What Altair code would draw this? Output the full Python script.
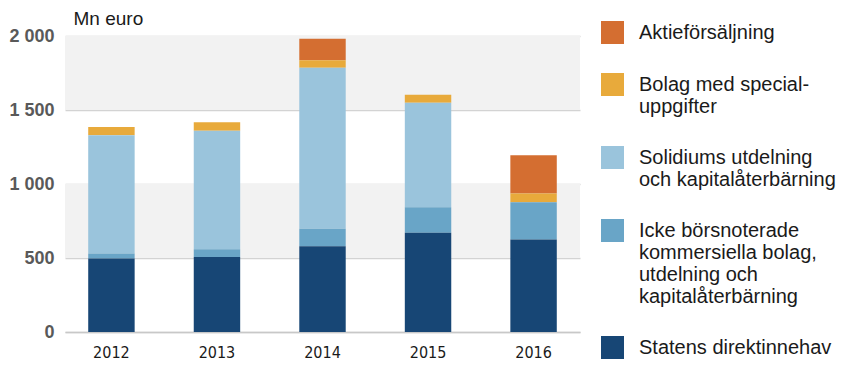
import altair as alt
import pandas as pd

years = ["2012", "2013", "2014", "2015", "2016"]
categories = [
    "Aktieförsäljning",
    "Bolag med specialuppgifter",
    "Solidiums utdelning och kapitalåterbärning",
    "Icke börsnoterade kommersiella bolag, utdelning och kapitalåterbärning",
    "Statens direktinnehav",
]
legend_lines = [
    ["Aktieförsäljning"],
    ["Bolag med special-", "uppgifter"],
    ["Solidiums utdelning", "och kapitalåterbärning"],
    ["Icke börsnoterade", "kommersiella bolag,", "utdelning och", "kapitalåterbärning"],
    ["Statens direktinnehav"],
]
colors = ["#d46e31", "#e8aa3b", "#9ac4dc", "#69a5c7", "#174675"]

aktie = [0, 0, 146, 0, 259]
bolag = [55, 58, 50, 54, 59]
solidium = [800, 801, 1089, 706, 0]
icke = [34, 52, 117, 173, 252]
statens = [496, 507, 580, 670, 625]

band_lo = [500, 1500]
band_hi = [1000, 2000]

series = [aktie, bolag, solidium, icke, statens]
rows = []
for ci, (cat, vals) in enumerate(zip(categories, series)):
    for y, v in zip(years, vals):
        rows.append({"year": y, "category": cat, "value": v, "order": len(categories) - ci})
df = pd.DataFrame(rows)
bands = pd.DataFrame({"lo": band_lo, "hi": band_hi})

label_map = {c: l for c, l in zip(categories, legend_lines)}
label_expr = "{" + ", ".join(
    "'" + c + "': [" + ", ".join("'" + s + "'" for s in l) + "]" for c, l in label_map.items()
) + "}[datum.label]"

yscale = alt.Scale(domain=[0, 2000], nice=False)

bg = alt.Chart(bands).mark_rect(color="#f2f2f2").encode(
    y=alt.Y("lo:Q", scale=yscale),
    y2="hi:Q",
    x=alt.value(0),
    x2=alt.value(515),
)

bars = alt.Chart(df).mark_bar().encode(
    x=alt.X(
        "year:N",
        sort=years,
        scale=alt.Scale(paddingInner=0.56, paddingOuter=0.22),
        axis=alt.Axis(
            title=None, labelAngle=0, ticks=False, domain=True, domainColor="#c8c8c8",
            domainWidth=1.5,
            labelFont="Liberation Sans Narrow, DejaVu Sans Condensed, Roboto Condensed, Liberation Sans",
            labelFontSize=16, labelFontWeight="normal", labelColor="#1a1a1a",
            labelPadding=12,
        ),
    ),
    y=alt.Y(
        "value:Q",
        stack="zero",
        scale=yscale,
        axis=alt.Axis(
            title="Mn euro", titleAngle=0, titleX=8, titleY=-18, titleAlign="left",
            titleBaseline="middle", titleFont="Liberation Sans", titleFontSize=19,
            titleFontWeight="normal", titleColor="#1a1a1a",
            values=[0, 500, 1000, 1500, 2000],
            labelExpr="replace(format(datum.value, ','), ',', ' ')",
            labelFont="Liberation Sans", labelFontSize=18, labelFontWeight="bold",
            labelColor="#595959", labelPadding=11, ticks=False, domain=False,
            grid=True, gridColor="#d3d3d3", gridWidth=1.5,
        ),
    ),
    color=alt.Color(
        "category:N",
        scale=alt.Scale(domain=categories, range=colors),
        legend=alt.Legend(
            title=None, orient="none", legendX=536, legendY=-15,
            symbolType="square", symbolSize=529, symbolStrokeWidth=0,
            labelFont="Liberation Sans", labelFontSize=20, labelColor="#1a1a1a",
            labelOffset=15, labelLimit=300, rowPadding=29, padding=0,
            labelExpr=label_expr,
        ),
    ),
    order=alt.Order("order:Q", sort="ascending"),
)

chart = alt.layer(bg, bars).properties(
    width=515,
    height=296,
    autosize=alt.AutoSizeParams(type="none"),
    padding={"left": 57, "top": 28, "right": 275, "bottom": 40},
).configure_view(stroke=None)

chart.save("out.html", embed_options={"renderer": "svg", "actions": False})
